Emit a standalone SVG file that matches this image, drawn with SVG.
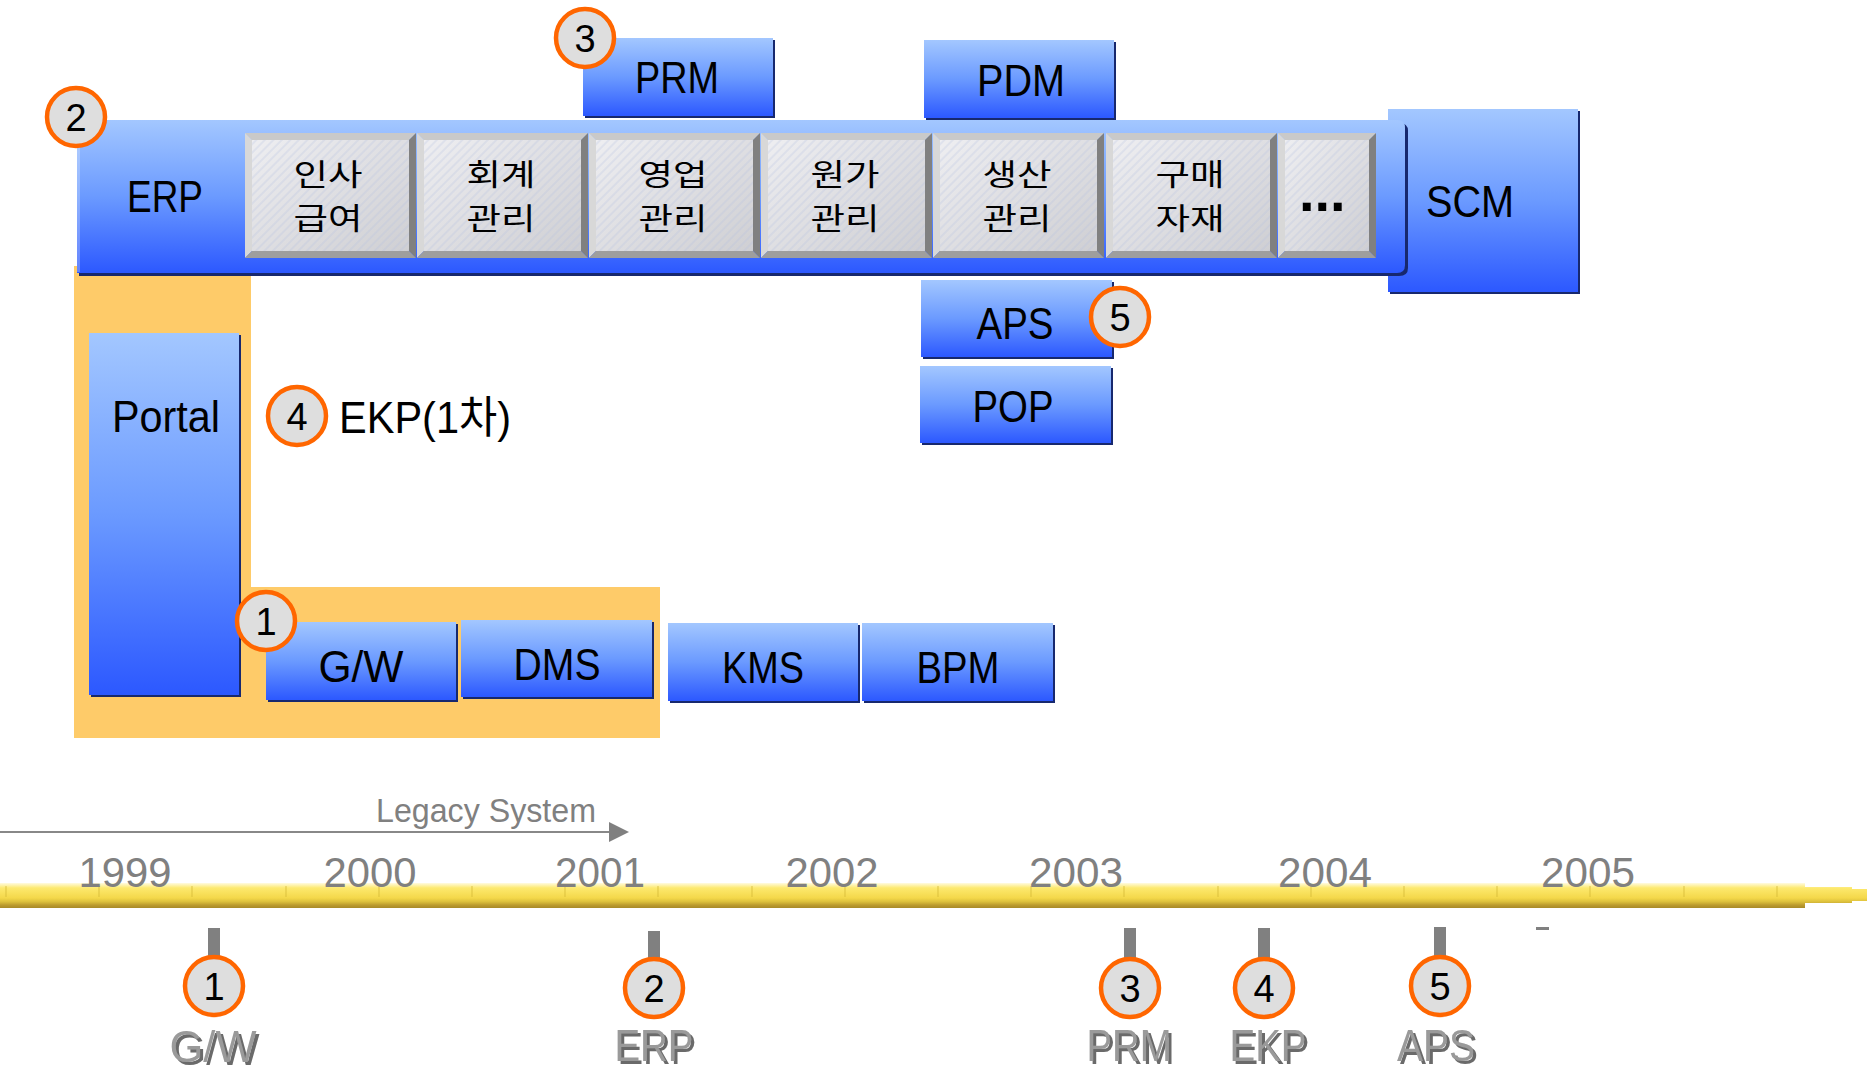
<svg xmlns="http://www.w3.org/2000/svg" width="1867" height="1072" viewBox="0 0 1867 1072">
  <style>
    .lbl { font-family: "Liberation Sans", Arial, sans-serif; font-size: 44px; fill: #000; text-anchor: middle; }
    .kr { font-family: "Noto Sans CJK KR", "Liberation Sans", sans-serif; font-size: 30px; fill: #000; text-anchor: middle; }
    .num { font-family: "Liberation Sans", Arial, sans-serif; font-size: 38px; fill: #000; text-anchor: middle; }
    .year { font-family: "Liberation Sans", Arial, sans-serif; font-size: 43px; fill: #808080; text-anchor: middle; }
    .mk { font-family: "Liberation Sans", Arial, sans-serif; font-size: 44px; text-anchor: middle; fill: #9a9a9a; filter: url(#mkShadow); }
    .blue { fill: url(#gBlue); }
    .shadow { fill: #17286e; }
    .badge { fill: #dedede; stroke: #ff6600; stroke-width: 4.5; }
    .stub { fill: #808080; }
    .b-top { fill: #c9c9c9; }
    .b-left { fill: #d8d8d8; }
    .b-right { fill: #808080; }
    .b-bot { fill: #9e9e9e; }
  </style>
  <defs>
    <linearGradient id="gBlue" x1="0" y1="0" x2="0" y2="1">
      <stop offset="0" stop-color="#a3c7ff"/>
      <stop offset="0.5" stop-color="#6b9aff"/>
      <stop offset="1" stop-color="#2c58ff"/>
    </linearGradient>
    <linearGradient id="gFace" x1="0" y1="0" x2="1" y2="1">
      <stop offset="0" stop-color="#eeeef1"/>
      <stop offset="1" stop-color="#cfcfd3"/>
    </linearGradient>
    <pattern id="hatch" width="6" height="6" patternUnits="userSpaceOnUse" patternTransform="rotate(45)">
      <line x1="1" y1="0" x2="1" y2="6" stroke="#b4c0e0" stroke-width="1" opacity="0.5"/>
    </pattern>
    <linearGradient id="gBar" x1="0" y1="0" x2="0" y2="1">
      <stop offset="0" stop-color="#fffbe0"/>
      <stop offset="0.2" stop-color="#fde96e"/>
      <stop offset="0.6" stop-color="#f4d84a"/>
      <stop offset="0.75" stop-color="#dcc03c"/>
      <stop offset="0.88" stop-color="#bc9c2e"/>
      <stop offset="1" stop-color="#a88a28"/>
    </linearGradient>
    <filter id="mkShadow" x="-10%" y="-10%" width="130%" height="130%">
      <feDropShadow dx="3" dy="3" stdDeviation="0.3" flood-color="#6a6a6a" flood-opacity="1"/>
    </filter>
    <!-- bevelled module button, 171 x 125 -->
    <g id="btn">
      <rect x="7" y="7" width="157" height="111" fill="url(#gFace)"/>
      <rect x="7" y="7" width="157" height="111" fill="url(#hatch)"/>
      <polygon class="b-top" points="0,0 171,0 164,7 7,7"/>
      <polygon class="b-left" points="0,0 7,7 7,118 0,125"/>
      <polygon class="b-right" points="171,0 171,125 164,118 164,7"/>
      <polygon class="b-bot" points="0,125 7,118 164,118 171,125"/>
    </g>
    <!-- narrow bevelled button, 98 x 125 -->
    <g id="btnS">
      <rect x="7" y="7" width="84" height="111" fill="url(#gFace)"/>
      <rect x="7" y="7" width="84" height="111" fill="url(#hatch)"/>
      <polygon class="b-top" points="0,0 98,0 91,7 7,7"/>
      <polygon class="b-left" points="0,0 7,7 7,118 0,125"/>
      <polygon class="b-right" points="98,0 98,125 91,118 91,7"/>
      <polygon class="b-bot" points="0,125 7,118 91,118 98,125"/>
    </g>
  </defs>

  <rect width="1867" height="1072" fill="#ffffff"/>

  <!-- EKP first-phase scope -->
  <g id="ekp-scope">
    <polygon points="74,266 251,266 251,587 660,587 660,738 74,738" fill="#fecb69"/>
  </g>

  <!-- SCM -->
  <g id="scm">
    <rect class="shadow" x="1390" y="111" width="190" height="183"/>
    <rect class="blue" x="1388" y="109" width="190" height="183"/>
    <text class="lbl" x="1470" y="217" textLength="88" lengthAdjust="spacingAndGlyphs">SCM</text>
  </g>

  <!-- ERP with its modules -->
  <g id="erp">
    <path class="shadow" d="M79,123 H1399 Q1408,123 1408,131 V268 Q1408,276 1399,276 H79 Z"/>
    <path class="blue" d="M77,120 H1397 Q1405,120 1405,128 V265 Q1405,273 1397,273 H77 Z"/>
    <rect x="77" y="121" width="3" height="151" fill="#ffffff" opacity="0.25"/>
    <text class="lbl" x="165" y="212" textLength="76" lengthAdjust="spacingAndGlyphs">ERP</text>
  </g>
  <g id="mod-hr" transform="translate(245,133)">
    <use href="#btn"/>
    <text class="kr" x="83" y="52" textLength="69" lengthAdjust="spacingAndGlyphs">인사</text>
    <text class="kr" x="83" y="96" textLength="69" lengthAdjust="spacingAndGlyphs">급여</text>
  </g>
  <g id="mod-acct" transform="translate(417,133)">
    <use href="#btn"/>
    <text class="kr" x="84" y="52" textLength="69" lengthAdjust="spacingAndGlyphs">회계</text>
    <text class="kr" x="84" y="96" textLength="69" lengthAdjust="spacingAndGlyphs">관리</text>
  </g>
  <g id="mod-sales" transform="translate(589,133)">
    <use href="#btn"/>
    <text class="kr" x="84" y="52" textLength="69" lengthAdjust="spacingAndGlyphs">영업</text>
    <text class="kr" x="84" y="96" textLength="69" lengthAdjust="spacingAndGlyphs">관리</text>
  </g>
  <g id="mod-cost" transform="translate(761,133)">
    <use href="#btn"/>
    <text class="kr" x="84" y="52" textLength="69" lengthAdjust="spacingAndGlyphs">원가</text>
    <text class="kr" x="84" y="96" textLength="69" lengthAdjust="spacingAndGlyphs">관리</text>
  </g>
  <g id="mod-prod" transform="translate(933,133)">
    <use href="#btn"/>
    <text class="kr" x="84" y="52" textLength="69" lengthAdjust="spacingAndGlyphs">생산</text>
    <text class="kr" x="84" y="96" textLength="69" lengthAdjust="spacingAndGlyphs">관리</text>
  </g>
  <g id="mod-purch" transform="translate(1106,133)">
    <use href="#btn"/>
    <text class="kr" x="84" y="52" textLength="69" lengthAdjust="spacingAndGlyphs">구매</text>
    <text class="kr" x="84" y="96" textLength="69" lengthAdjust="spacingAndGlyphs">자재</text>
  </g>
  <g id="mod-more" transform="translate(1278,133)">
    <use href="#btnS"/>
    <text x="21" y="78" font-family="Liberation Sans, Arial, sans-serif" font-size="56" font-weight="bold" fill="#000">...</text>
  </g>

  <!-- PRM -->
  <g id="prm">
    <rect class="shadow" x="585" y="40" width="190" height="78"/>
    <rect class="blue" x="583" y="38" width="190" height="78"/>
    <text class="lbl" x="677" y="93" textLength="84" lengthAdjust="spacingAndGlyphs">PRM</text>
  </g>

  <!-- PDM -->
  <g id="pdm">
    <rect class="shadow" x="926" y="42" width="190" height="78"/>
    <rect class="blue" x="924" y="40" width="190" height="78"/>
    <text class="lbl" x="1021" y="96" textLength="88" lengthAdjust="spacingAndGlyphs">PDM</text>
  </g>

  <!-- APS -->
  <g id="aps">
    <rect class="shadow" x="923" y="282" width="191" height="77"/>
    <rect class="blue" x="921" y="280" width="191" height="77"/>
    <text class="lbl" x="1015" y="339" textLength="77" lengthAdjust="spacingAndGlyphs">APS</text>
  </g>

  <!-- POP -->
  <g id="pop">
    <rect class="shadow" x="922" y="368" width="191" height="77"/>
    <rect class="blue" x="920" y="366" width="191" height="77"/>
    <text class="lbl" x="1013" y="422" textLength="81" lengthAdjust="spacingAndGlyphs">POP</text>
  </g>

  <!-- Portal -->
  <g id="portal">
    <rect class="shadow" x="91" y="335" width="150" height="362"/>
    <rect class="blue" x="89" y="333" width="150" height="362"/>
    <text class="lbl" x="166" y="432" textLength="108" lengthAdjust="spacingAndGlyphs">Portal</text>
  </g>

  <!-- G/W -->
  <g id="gw">
    <rect class="shadow" x="268" y="624" width="190" height="78"/>
    <rect class="blue" x="266" y="622" width="190" height="78"/>
    <text class="lbl" x="361" y="682" textLength="85" lengthAdjust="spacingAndGlyphs">G/W</text>
  </g>

  <!-- DMS -->
  <g id="dms">
    <rect class="shadow" x="463" y="622" width="191" height="77"/>
    <rect class="blue" x="461" y="620" width="191" height="77"/>
    <text class="lbl" x="557" y="680" textLength="87" lengthAdjust="spacingAndGlyphs">DMS</text>
  </g>

  <!-- KMS -->
  <g id="kms">
    <rect class="shadow" x="670" y="625" width="190" height="78"/>
    <rect class="blue" x="668" y="623" width="190" height="78"/>
    <text class="lbl" x="763" y="683" textLength="82" lengthAdjust="spacingAndGlyphs">KMS</text>
  </g>

  <!-- BPM -->
  <g id="bpm">
    <rect class="shadow" x="864" y="625" width="191" height="78"/>
    <rect class="blue" x="862" y="623" width="191" height="78"/>
    <text class="lbl" x="958" y="683" textLength="83" lengthAdjust="spacingAndGlyphs">BPM</text>
  </g>

  <!-- EKP first phase caption -->
  <g id="ekp-label">
    <text x="339" y="433" font-family="Liberation Sans, Noto Sans CJK KR, sans-serif" font-size="44" fill="#000" textLength="172" lengthAdjust="spacingAndGlyphs">EKP(1차)</text>
  </g>

  <!-- numbered badges on the system map -->
  <g id="badge-2"><circle class="badge" cx="76" cy="117" r="29"/><text class="num" x="76" y="131">2</text></g>
  <g id="badge-3"><circle class="badge" cx="585" cy="38" r="29"/><text class="num" x="585" y="52">3</text></g>
  <g id="badge-5"><circle class="badge" cx="1120" cy="317" r="29"/><text class="num" x="1120" y="331">5</text></g>
  <g id="badge-4"><circle class="badge" cx="297" cy="416" r="29"/><text class="num" x="297" y="430">4</text></g>
  <g id="badge-1"><circle class="badge" cx="266" cy="621" r="29"/><text class="num" x="266" y="635">1</text></g>

  <!-- timeline -->
  <g id="timeline">
    <polygon points="0,883 1805,883 1805,887 1852,887 1852,889 1867,889 1867,901 1852,901 1852,903 1805,903 1805,908 0,908" fill="url(#gBar)"/>
    <g stroke="#d8bc3a" stroke-width="1.2" opacity="0.7">
      <line x1="6" y1="886" x2="6" y2="897"/>
      <line x1="99" y1="886" x2="99" y2="897"/>
      <line x1="192" y1="886" x2="192" y2="897"/>
      <line x1="286" y1="886" x2="286" y2="897"/>
      <line x1="379" y1="886" x2="379" y2="897"/>
      <line x1="472" y1="886" x2="472" y2="897"/>
      <line x1="565" y1="886" x2="565" y2="897"/>
      <line x1="658" y1="886" x2="658" y2="897"/>
      <line x1="752" y1="886" x2="752" y2="897"/>
      <line x1="845" y1="886" x2="845" y2="897"/>
      <line x1="938" y1="886" x2="938" y2="897"/>
      <line x1="1031" y1="886" x2="1031" y2="897"/>
      <line x1="1124" y1="886" x2="1124" y2="897"/>
      <line x1="1218" y1="886" x2="1218" y2="897"/>
      <line x1="1311" y1="886" x2="1311" y2="897"/>
      <line x1="1404" y1="886" x2="1404" y2="897"/>
      <line x1="1497" y1="886" x2="1497" y2="897"/>
      <line x1="1590" y1="886" x2="1590" y2="897"/>
      <line x1="1684" y1="886" x2="1684" y2="897"/>
      <line x1="1777" y1="886" x2="1777" y2="897"/>
    </g>
    <text class="year" x="125" y="887" textLength="93" lengthAdjust="spacingAndGlyphs">1999</text>
    <text class="year" x="370" y="887" textLength="93" lengthAdjust="spacingAndGlyphs">2000</text>
    <text class="year" x="600" y="887" textLength="90" lengthAdjust="spacingAndGlyphs">2001</text>
    <text class="year" x="832" y="887" textLength="93" lengthAdjust="spacingAndGlyphs">2002</text>
    <text class="year" x="1076" y="887" textLength="94" lengthAdjust="spacingAndGlyphs">2003</text>
    <text class="year" x="1325" y="887" textLength="94" lengthAdjust="spacingAndGlyphs">2004</text>
    <text class="year" x="1588" y="887" textLength="94" lengthAdjust="spacingAndGlyphs">2005</text>
    <rect x="1536" y="927" width="13" height="3" fill="#808080"/>
  </g>

  <!-- legacy period arrow and milestone stubs -->
  <g id="connectors">
    <line x1="0" y1="832" x2="611" y2="832" stroke="#888888" stroke-width="2"/>
    <polygon points="609,822 629,832 609,842" fill="#808080"/>
    <rect class="stub" x="208" y="928" width="12" height="30"/>
    <rect class="stub" x="648" y="931" width="12" height="30"/>
    <rect class="stub" x="1124" y="928" width="12" height="32"/>
    <rect class="stub" x="1258" y="928" width="12" height="32"/>
    <rect class="stub" x="1434" y="927" width="12" height="30"/>
  </g>
  <g id="legacy-label">
    <text x="376" y="822" font-family="Liberation Sans, Arial, sans-serif" font-size="33" fill="#808080" textLength="220" lengthAdjust="spacingAndGlyphs">Legacy System</text>
  </g>

  <!-- milestones -->
  <g id="ms-1">
    <circle class="badge" cx="214" cy="986" r="29"/><text class="num" x="214" y="1000">1</text>
    <text class="mk" x="213" y="1062" textLength="87" lengthAdjust="spacingAndGlyphs">G/W</text>
  </g>
  <g id="ms-2">
    <circle class="badge" cx="654" cy="988" r="29"/><text class="num" x="654" y="1002">2</text>
    <text class="mk" x="654" y="1061" textLength="79" lengthAdjust="spacingAndGlyphs">ERP</text>
  </g>
  <g id="ms-3">
    <circle class="badge" cx="1130" cy="988" r="29"/><text class="num" x="1130" y="1002">3</text>
    <text class="mk" x="1129" y="1061" textLength="85" lengthAdjust="spacingAndGlyphs">PRM</text>
  </g>
  <g id="ms-4">
    <circle class="badge" cx="1264" cy="988" r="29"/><text class="num" x="1264" y="1002">4</text>
    <text class="mk" x="1268" y="1061" textLength="77" lengthAdjust="spacingAndGlyphs">EKP</text>
  </g>
  <g id="ms-5">
    <circle class="badge" cx="1440" cy="986" r="29"/><text class="num" x="1440" y="1000">5</text>
    <text class="mk" x="1436" y="1061" textLength="78" lengthAdjust="spacingAndGlyphs">APS</text>
  </g>
</svg>
